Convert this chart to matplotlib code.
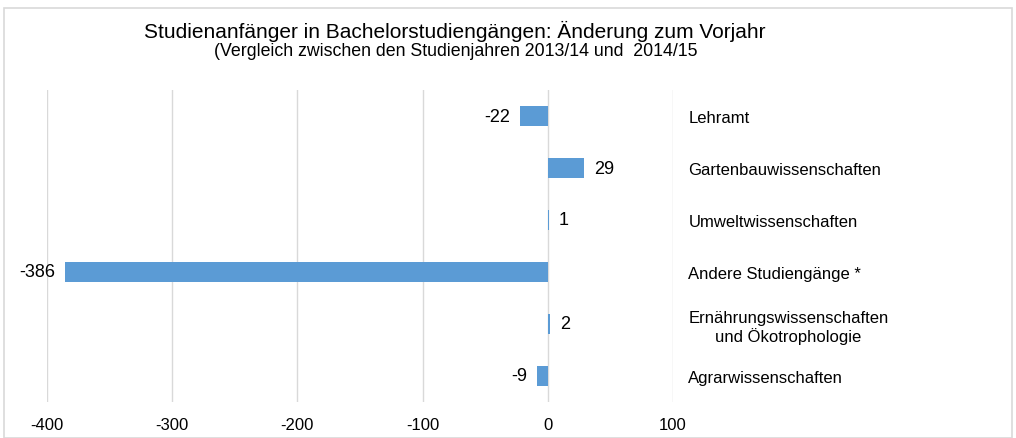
import matplotlib
matplotlib.use("Agg")
import matplotlib.pyplot as plt
from matplotlib.patches import Rectangle
from matplotlib import font_manager as fm

categories = ["Lehramt", "Gartenbauwissenschaften", "Umweltwissenschaften",
              "Andere Studiengänge *", "Ernährungswissenschaften\nund Ökotrophologie",
              "Agrarwissenschaften"]
values = [-22, 29, 1, -386, 2, -9]
xticks = [-400, -300, -200, -100, 0, 100]

names = {f.name for f in fm.fontManager.ttflist}
narrow = "Liberation Sans Narrow" if "Liberation Sans Narrow" in names else "Liberation Sans"
plt.rcParams['font.family'] = ['Liberation Sans', 'DejaVu Sans']

W, H = 1016, 439
fig = plt.figure(figsize=(W / 100, H / 100), dpi=100)
fig.patches.append(Rectangle((4 / W, 0), (W - 8) / W, (H - 9) / H, transform=fig.transFigure,
                             fill=False, edgecolor="#D9D9D9", linewidth=1.2))

ax = fig.add_axes([47 / W, (H - 403) / H, (673 - 47) / W, (403 - 91) / H])
color = "#5B9BD5"
ypos = list(range(len(categories)))
ax.barh(ypos, values, height=0.4, color=color, zorder=3)
ax.set_ylim(len(categories) - 0.5, -0.5)
ax.set_xlim(-400, 100)
ax.set_xticks(xticks)
ax.set_xticklabels([str(t) for t in xticks], fontsize=12)
ax.tick_params(axis='x', length=0, pad=11)
ax.grid(axis='x', color="#D9D9D9", linewidth=1, zorder=0)
for s in ax.spines.values():
    s.set_visible(False)

ax.yaxis.tick_right()
ax.set_yticks(ypos)
ax.set_yticklabels(categories, fontsize=12, ha='left')
ax.tick_params(axis='y', length=0, pad=11)
for lab in ax.get_yticklabels():
    lab.set_multialignment('center')

for y, v in zip(ypos, values):
    if v < 0:
        ax.annotate(str(v), (v, y), xytext=(-7, 0), textcoords='offset points',
                    ha='right', va='center', fontsize=13)
    else:
        ax.annotate(str(v), (v, y), xytext=(7, 0), textcoords='offset points',
                    ha='left', va='center', fontsize=13)

fig.text(455 / W, 1 - 31 / H, "Studienanfänger in Bachelorstudiengängen: Änderung zum Vorjahr",
         ha='center', va='center', fontsize=15, family=[narrow, 'DejaVu Sans'])
fig.text(456 / W, 1 - 52 / H, "(Vergleich zwischen den Studienjahren 2013/14 und  2014/15",
         ha='center', va='center', fontsize=12.8, family=[narrow, 'DejaVu Sans'])

fig.savefig("out.png", dpi=100)
